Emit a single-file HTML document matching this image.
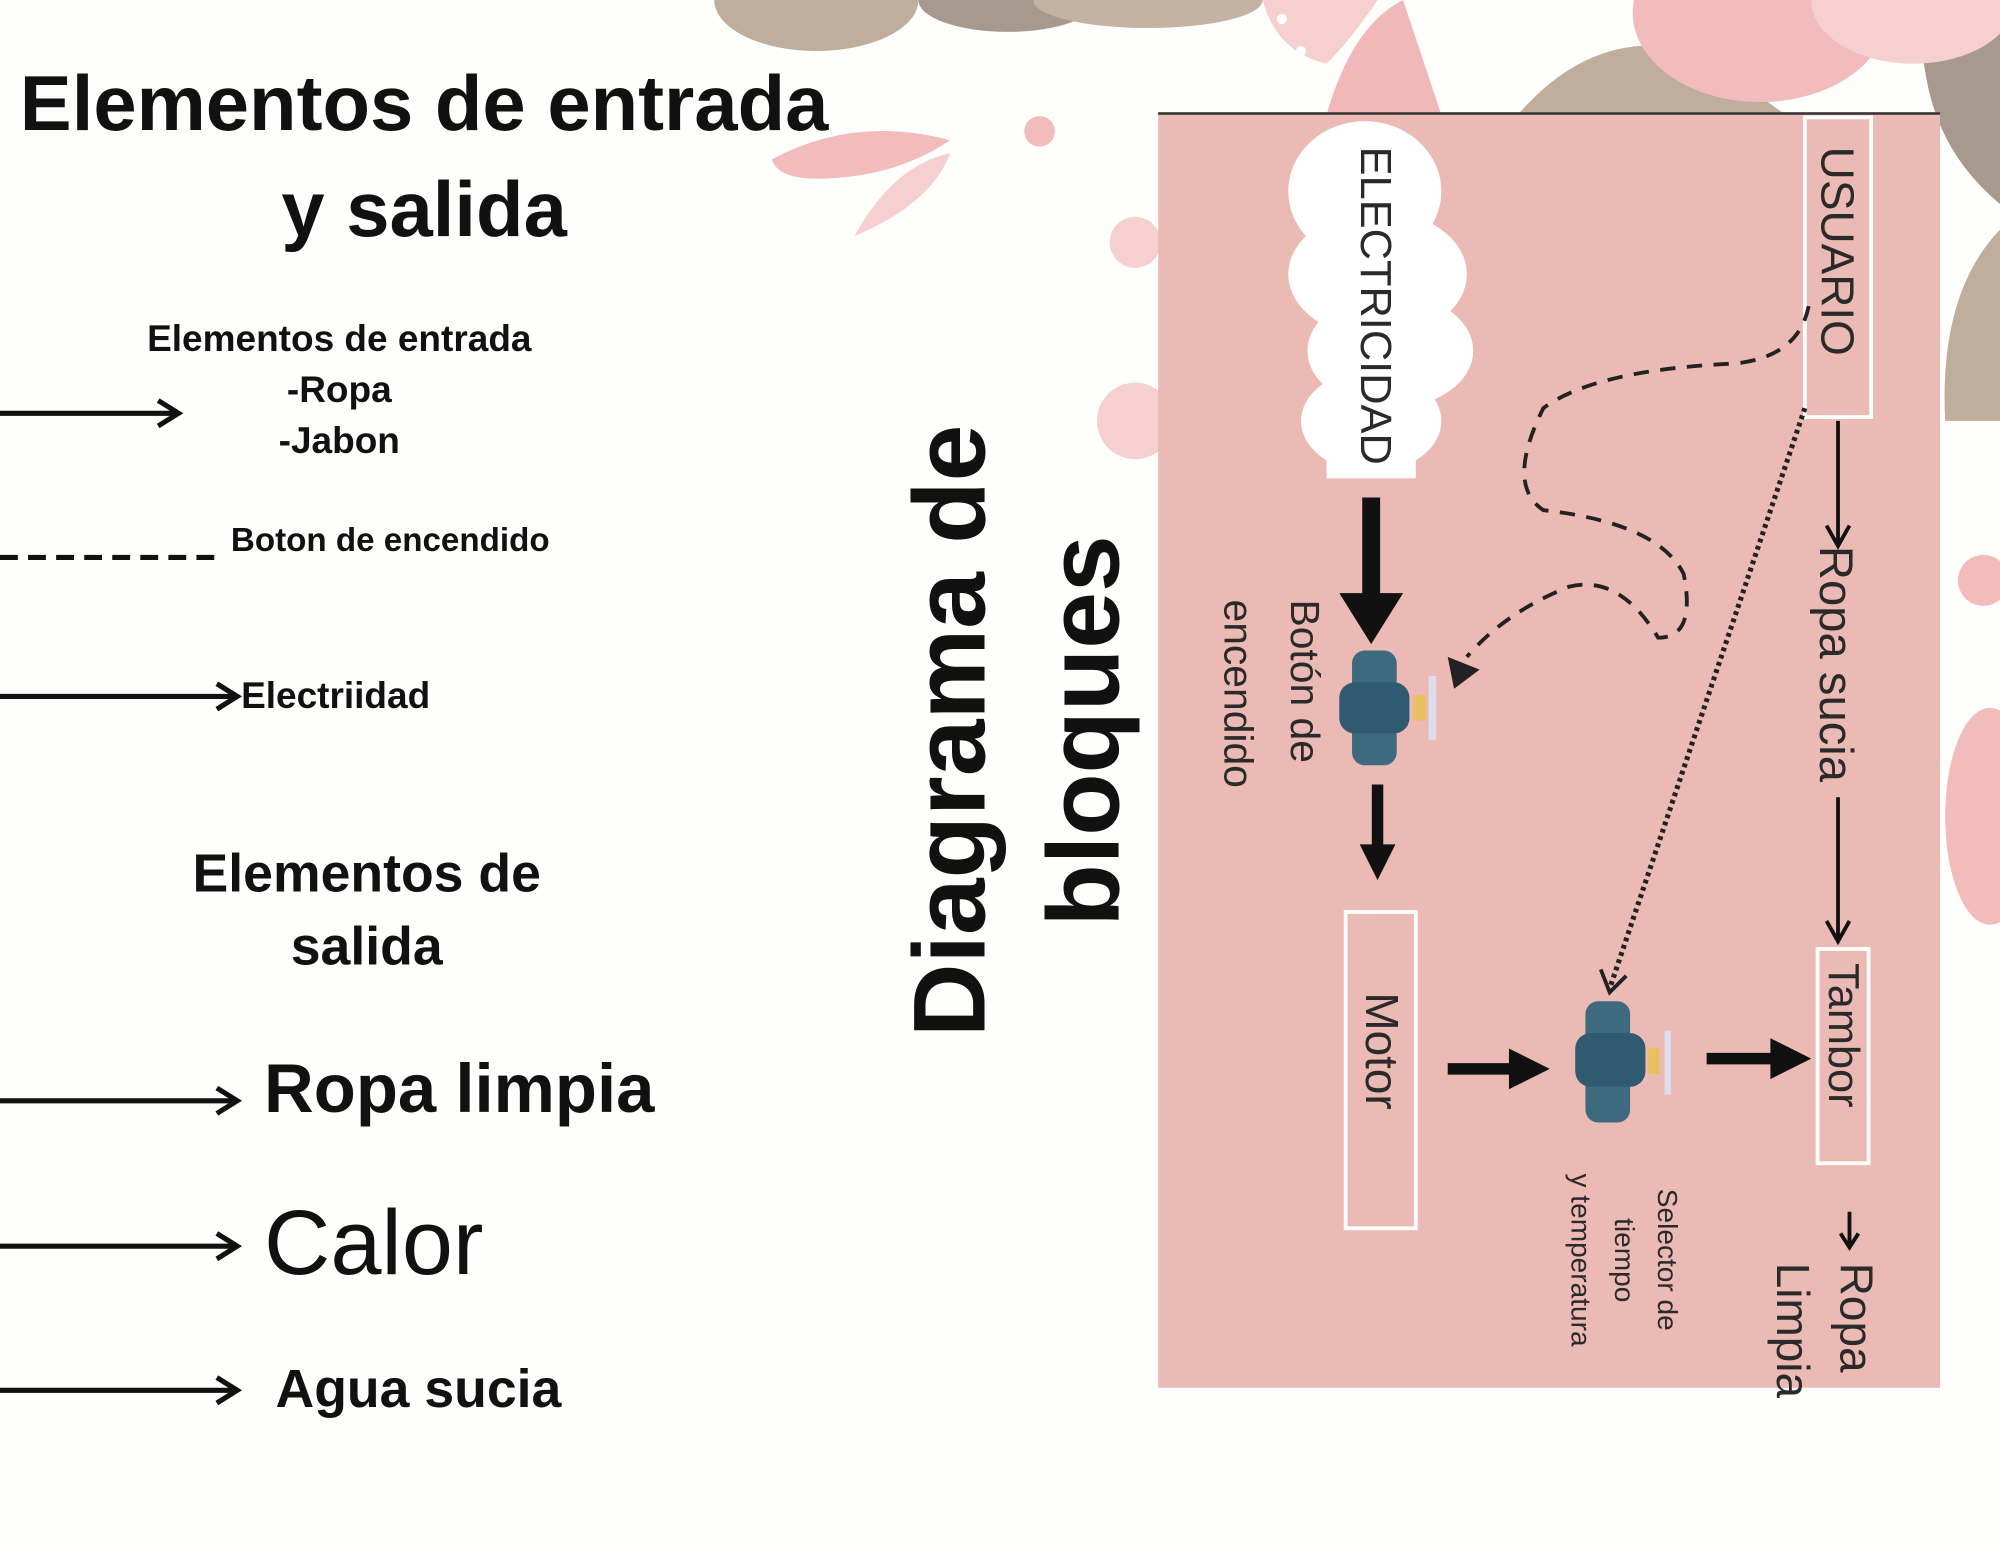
<!DOCTYPE html>
<html><head><meta charset="utf-8"><style>
html,body{margin:0;padding:0;background:#fefefc;overflow:hidden}
#w{position:absolute;left:0;top:0;width:1568px;height:1211px;transform:scale(1.27551);transform-origin:0 0;font-family:"Liberation Sans",sans-serif;color:#111}
.a{position:absolute}
.t{position:absolute;font-weight:bold;white-space:nowrap}
.v{position:absolute;writing-mode:vertical-rl;white-space:nowrap;color:#2a2a2a}
</style></head><body><div id="w">
<svg class="a" style="left:0;top:0" width="1568" height="1211">
<ellipse cx="640" cy="0" rx="80" ry="40" fill="#bfae9c"/>
<ellipse cx="790" cy="0" rx="70" ry="25" fill="#a8998f"/>
<ellipse cx="900" cy="0" rx="90" ry="22" fill="#c4b3a2"/>
<path d="M1190 90 Q1250 20 1330 40 L1400 90 Z" fill="#bfae9c"/>
<path d="M1500 0 L1568 0 L1568 160 Q1520 120 1510 60Z" fill="#a8998f"/>
<path d="M1568 180 Q1520 230 1525 330 L1568 330Z" fill="#bfae9c"/>
<ellipse cx="1380" cy="10" rx="100" ry="70" fill="#f2bcbd"/>
<ellipse cx="1500" cy="0" rx="80" ry="50" fill="#f6cfcf"/>
<path d="M1040 90 Q1060 20 1100 0 L1130 90Z" fill="#f0b8b8"/>
<path d="M990 0 Q1000 40 1040 50 Q1060 30 1080 0Z" fill="#f6cfcf"/>
<circle cx="1005" cy="15" r="4" fill="#fff"/><circle cx="1000" cy="38" r="4" fill="#fff"/><circle cx="1020" cy="40" r="4" fill="#fff"/>
<path d="M605 125 Q670 90 745 110 Q700 140 640 140 Q610 140 605 125Z" fill="#f2bcbd"/>
<path d="M670 185 Q700 130 745 120 Q730 160 670 185Z" fill="#f6cfcf"/>
<circle cx="815" cy="103" r="12" fill="#f2bcbd"/>
<circle cx="890" cy="190" r="20" fill="#f6cfcf"/>
<circle cx="890" cy="330" r="30" fill="#f6cfcf"/>
<circle cx="1555" cy="455" r="20" fill="#f2bcbd"/>
<ellipse cx="1560" cy="640" rx="35" ry="85" fill="#f2bcbd"/>
<g stroke="#111" stroke-width="4" fill="none">
<line x1="0" y1="324" x2="138" y2="324"/><polyline points="124,314 140,324 124,334"/>
<line x1="0" y1="437" x2="175" y2="437" stroke-dasharray="14,8"/>
<line x1="0" y1="546" x2="183" y2="546"/><polyline points="170,536 186,546 170,556"/>
<line x1="0" y1="863" x2="183" y2="863"/><polyline points="170,853 186,863 170,873"/>
<line x1="0" y1="977" x2="183" y2="977"/><polyline points="170,967 186,977 170,987"/>
<line x1="0" y1="1090" x2="183" y2="1090"/><polyline points="170,1080 186,1090 170,1100"/>
</g>
<rect x="908" y="88" width="613" height="1000" fill="#ebbab4"/>
<line x1="908" y1="89" x2="1521" y2="89" stroke="#333" stroke-width="2"/>
<g fill="#fff">
<ellipse cx="1070" cy="150" rx="60" ry="55"/><ellipse cx="1080" cy="215" rx="70" ry="50"/>
<ellipse cx="1090" cy="275" rx="65" ry="45"/><ellipse cx="1075" cy="330" rx="55" ry="40"/>
<rect x="1040" y="130" width="70" height="245"/>
</g>
<rect x="1415" y="92" width="52" height="235" fill="none" stroke="#fff" stroke-width="3"/>
<rect x="1055" y="715" width="55" height="248" fill="none" stroke="#fff" stroke-width="3"/>
<rect x="1425" y="744" width="40" height="168" fill="none" stroke="#fff" stroke-width="3"/>
<g stroke="#111" fill="none">
<line x1="1075" y1="390" x2="1075" y2="470" stroke-width="14"/>
<polygon points="1050,465 1100,465 1075,505" fill="#111" stroke="none"/>
<line x1="1080" y1="615" x2="1080" y2="665" stroke-width="9"/>
<polygon points="1066,662 1094,662 1080,690" fill="#111" stroke="none"/>
<line x1="1135" y1="838" x2="1185" y2="838" stroke-width="9"/>
<polygon points="1183,822 1183,854 1215,838" fill="#111" stroke="none"/>
<line x1="1338" y1="830" x2="1390" y2="830" stroke-width="9"/>
<polygon points="1388,814 1388,846 1420,830" fill="#111" stroke="none"/>
<line x1="1441" y1="330" x2="1441" y2="425" stroke-width="3"/>
<polyline points="1432,412 1441,428 1450,412" stroke-width="3"/>
<line x1="1441" y1="625" x2="1441" y2="735" stroke-width="3"/>
<polyline points="1432,722 1441,738 1450,722" stroke-width="3"/>
<line x1="1450" y1="950" x2="1450" y2="975" stroke-width="3"/>
<polyline points="1443,967 1450,978 1457,967" stroke-width="3"/>
<path d="M1418 240 Q1410 280 1360 285 Q1250 290 1210 320 Q1180 380 1210 400 Q1300 410 1320 450 Q1330 500 1300 500 Q1270 450 1230 460 Q1180 480 1150 515" stroke="#222" stroke-width="3" stroke-dasharray="12,9"/>
<polygon points="1135,515 1160,525 1140,540" fill="#222" stroke="none"/>
<line x1="1415" y1="320" x2="1262" y2="775" stroke="#222" stroke-width="4" stroke-dasharray="3,3"/>
<polyline points="1255,760 1262,778 1275,765" stroke="#222" stroke-width="3"/>
</g>
<g>
<rect x="1060" y="510" width="35" height="90" rx="10" fill="#3e6a80"/><rect x="1050" y="535" width="55" height="40" rx="12" fill="#2f5a70"/>
<rect x="1108" y="545" width="10" height="20" fill="#e8c060"/><rect x="1120" y="530" width="6" height="50" fill="#dde"/>
<rect x="1243" y="785" width="35" height="95" rx="10" fill="#3e6a80"/><rect x="1235" y="810" width="55" height="42" rx="12" fill="#2f5a70"/>
<rect x="1292" y="822" width="9" height="20" fill="#e8c060"/><rect x="1305" y="808" width="5" height="50" fill="#dde"/>
</g>
</svg>
<div class="t" style="left:0;top:40px;width:665px;text-align:center;font-size:61px;line-height:83px">Elementos de entrada<br>y salida</div>
<div class="t" style="left:66px;top:246px;width:400px;text-align:center;font-size:29px;line-height:40px">Elementos de entrada<br>-Ropa<br>-Jabon</div>
<div class="t" style="left:181px;top:408px;font-size:26px">Boton de encendido</div>
<div class="t" style="left:189px;top:530px;font-size:29px">Electriidad</div>
<div class="t" style="left:110px;top:656px;width:355px;text-align:center;font-size:42px;line-height:57px">Elementos de<br>salida</div>
<div class="t" style="left:207px;top:823px;font-size:54px">Ropa limpia</div>
<div class="t" style="left:207px;top:934px;font-size:72px;font-weight:normal">Calor</div>
<div class="t" style="left:216px;top:1065px;font-size:42px">Agua sucia</div>
<div class="t" style="left:547px;top:468px;width:500px;text-align:center;font-size:80px;line-height:105px;transform:rotate(-90deg)">Diagrama de<br>bloques</div>
<div class="v" style="left:1058px;top:115px;font-size:34px">ELECTRICIDAD</div>
<div class="v" style="left:1419px;top:115px;font-size:36px">USUARIO</div>
<div class="v" style="left:1418px;top:428px;font-size:37px">Ropa sucia</div>
<div class="v" style="left:1425px;top:755px;font-size:34px">Tambor</div>
<div class="v" style="left:1062px;top:778px;font-size:36px">Motor</div>
<div class="v" style="left:945px;top:470px;font-size:32px;line-height:52px">Botón de<br>encendido</div>
<div class="v" style="left:1222px;top:920px;font-size:22px;line-height:34px;text-align:center">Selector de<br>tiempo<br>y temperatura</div>
<div class="v" style="left:1380px;top:990px;font-size:36px;line-height:50px">Ropa<br>Limpia</div>
</div></body></html>
